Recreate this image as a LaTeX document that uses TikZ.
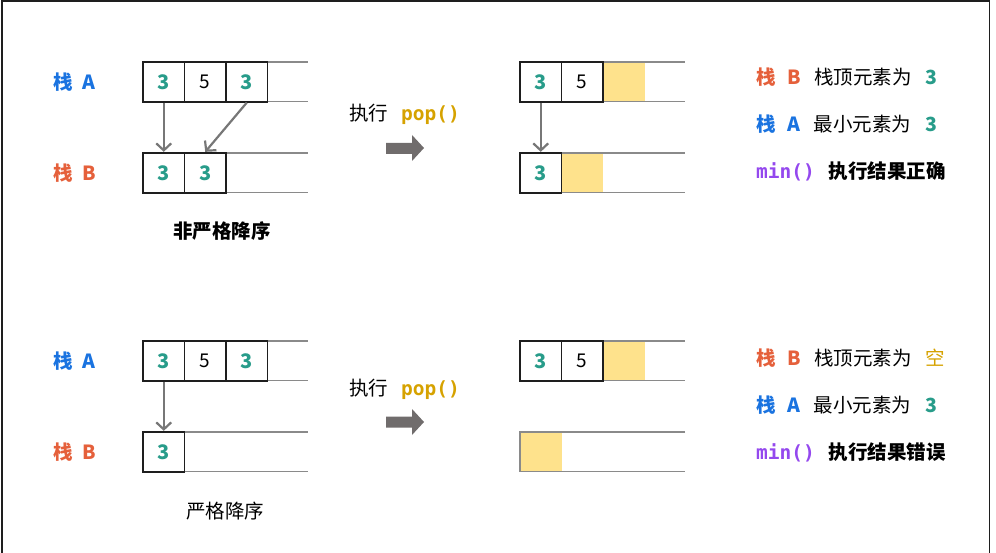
\documentclass[tikz,border=0pt]{standalone}
\usepackage{fontspec}
\setmainfont{Noto Sans CJK SC}
\newfontfamily\codefont{DejaVu Sans Mono}
\usepackage{xcolor}
\usepackage{tikz}
\usetikzlibrary{arrows.meta}
\definecolor{stackA}{HTML}{1A73E0}
\definecolor{stackB}{HTML}{E5603B}
\definecolor{numteal}{HTML}{289C8A}
\definecolor{popgold}{HTML}{D6A200}
\definecolor{minpurple}{HTML}{9448EE}
\definecolor{holdyellow}{HTML}{FEE28C}
\definecolor{cellline}{HTML}{1E1E1E}
\definecolor{railgray}{HTML}{8A8A8A}
\definecolor{linkgray}{HTML}{777777}
\definecolor{bigarrowgray}{HTML}{706C6C}
\tikzset{
	cell/.style={draw=cellline,line width=1.8pt,minimum width=41.5pt,minimum height=40pt,inner sep=0pt,font=\fontsize{19}{19}\selectfont},
	three/.style={cell,text=numteal,font=\fontsize{20}{20}\selectfont\bfseries},
	hold/.style={fill=holdyellow,minimum width=41.5pt,minimum height=40pt,inner sep=0pt},
	rail/.style={draw=railgray,line width=1.3pt},
	link/.style={draw=linkgray,line width=2.2pt,-{Straight Barb[length=7pt,width=15pt,line width=2.2pt]}},
	name A/.style={anchor=west,inner sep=0pt,text=stackA,font=\fontsize{19.5}{19.5}\selectfont\bfseries},
	name B/.style={anchor=west,inner sep=0pt,text=stackB,font=\fontsize{19.5}{19.5}\selectfont\bfseries},
	note/.style={anchor=west,inner sep=0pt,font=\fontsize{19.5}{19.5}\selectfont},
}

\begin{document}
\begin{tikzpicture}[x=1pt,y=-1pt]
	\useasboundingbox (0,0) rectangle (996,553);
	\draw[cellline,line width=1.5pt] (2,553) -- (2,1) -- (989.5,1) -- (989.5,553);
	% non-strict, before pop
	\draw[rail] (143,62) -- (308,62) (143,101.5) -- (308,101.5);
	\draw[rail] (143,153) -- (308,153) (143,192.5) -- (308,192.5);
	\node[three] (p1 A1) at (163.75,81.75) {3};
	\node[cell] (p1 A2) at (205.25,81.75) {5};
	\node[three] (p1 A3) at (246.75,81.75) {3};
	\node[three] (p1 B1) at (163.75,172.75) {3};
	\node[three] (p1 B2) at (205.25,172.75) {3};
	\draw[link] (p1 A1.south) -- (p1 B1.north);
	\draw[link] (p1 A3.south) -- (p1 B2.north);
	\node[name A] (p1 nameA) at (53,82) {栈\hspace{10pt}A};
	\node[name B] (p1 nameB) at (53,173) {栈\hspace{10pt}B};
	\node[font=\fontsize{19.5}{19.5}\selectfont\bfseries] (p1 cap) at (222,231) {非严格降序};
	% non-strict, pop
	\node[note] (p2 pop) at (349,114) {执行\hspace{13pt}{\codefont\bfseries\color{popgold}pop()}};
	\fill[bigarrowgray] (386,143) -- (412,143) -- (412,135) -- (424,148) -- (412,161) -- (412,154) -- (386,154) -- cycle;
	% non-strict, after pop
	\node[hold] (p2 A3) at (623.75,81.75) {};
	\node[hold] (p2 B2) at (582.25,172.75) {};
	\draw[rail] (520,62) -- (685,62) (520,101.5) -- (685,101.5);
	\draw[rail] (520,153) -- (685,153) (520,192.5) -- (685,192.5);
	\node[three] (p2 A1) at (540.75,81.75) {3};
	\node[cell] (p2 A2) at (582.25,81.75) {5};
	\node[three] (p2 B1) at (540.75,172.75) {3};
	\draw[link] (p2 A1.south) -- (p2 B1.north);
	\node[note] (p2 top) at (756,77) {{\bfseries\color{stackB}栈\hspace{12pt}B}\hspace{13pt}栈顶元素为\hspace{14pt}{\bfseries\color{numteal}3}};
	\node[note] (p2 min) at (756,124) {{\bfseries\color{stackA}栈\hspace{12pt}A}\hspace{13pt}最小元素为\hspace{14pt}{\bfseries\color{numteal}3}};
	\node[note] (p2 res) at (756,171) {{\codefont\bfseries\color{minpurple}min()}\hspace{14pt}\bfseries 执行结果正确};
	% strict, before pop
	\draw[rail] (143,341) -- (308,341) (143,380.5) -- (308,380.5);
	\draw[rail] (143,432) -- (308,432) (143,471.5) -- (308,471.5);
	\node[three] (p3 A1) at (163.75,360.75) {3};
	\node[cell] (p3 A2) at (205.25,360.75) {5};
	\node[three] (p3 A3) at (246.75,360.75) {3};
	\node[three] (p3 B1) at (163.75,451.75) {3};
	\draw[link] (p3 A1.south) -- (p3 B1.north);
	\node[name A] (p3 nameA) at (53,361) {栈\hspace{10pt}A};
	\node[name B] (p3 nameB) at (53,452) {栈\hspace{10pt}B};
	\node[font=\fontsize{19.5}{19.5}\selectfont] (p3 cap) at (225,511) {严格降序};
	% strict, pop
	\node[note] (p4 pop) at (349,389) {执行\hspace{13pt}{\codefont\bfseries\color{popgold}pop()}};
	\fill[bigarrowgray] (386,416.5) -- (412,416.5) -- (412,409) -- (424,422) -- (412,435) -- (412,427.5) -- (386,427.5) -- cycle;
	% strict, after pop
	\node[hold] (p4 A3) at (623.75,360.75) {};
	\node[hold] (p4 B1) at (540.75,451.75) {};
	\draw[rail] (520,341) -- (685,341) (520,380.5) -- (685,380.5);
	\draw[rail] (685,432) -- (520,432) -- (520,471.5) -- (685,471.5);
	\node[three] (p4 A1) at (540.75,360.75) {3};
	\node[cell] (p4 A2) at (582.25,360.75) {5};
	\node[note] (p4 top) at (756,358) {{\bfseries\color{stackB}栈\hspace{12pt}B}\hspace{13pt}栈顶元素为\hspace{14pt}{\color{popgold}空}};
	\node[note] (p4 min) at (756,405) {{\bfseries\color{stackA}栈\hspace{12pt}A}\hspace{13pt}最小元素为\hspace{14pt}{\bfseries\color{numteal}3}};
	\node[note] (p4 res) at (756,452) {{\codefont\bfseries\color{minpurple}min()}\hspace{14pt}\bfseries 执行结果错误};
\end{tikzpicture}
\end{document}
